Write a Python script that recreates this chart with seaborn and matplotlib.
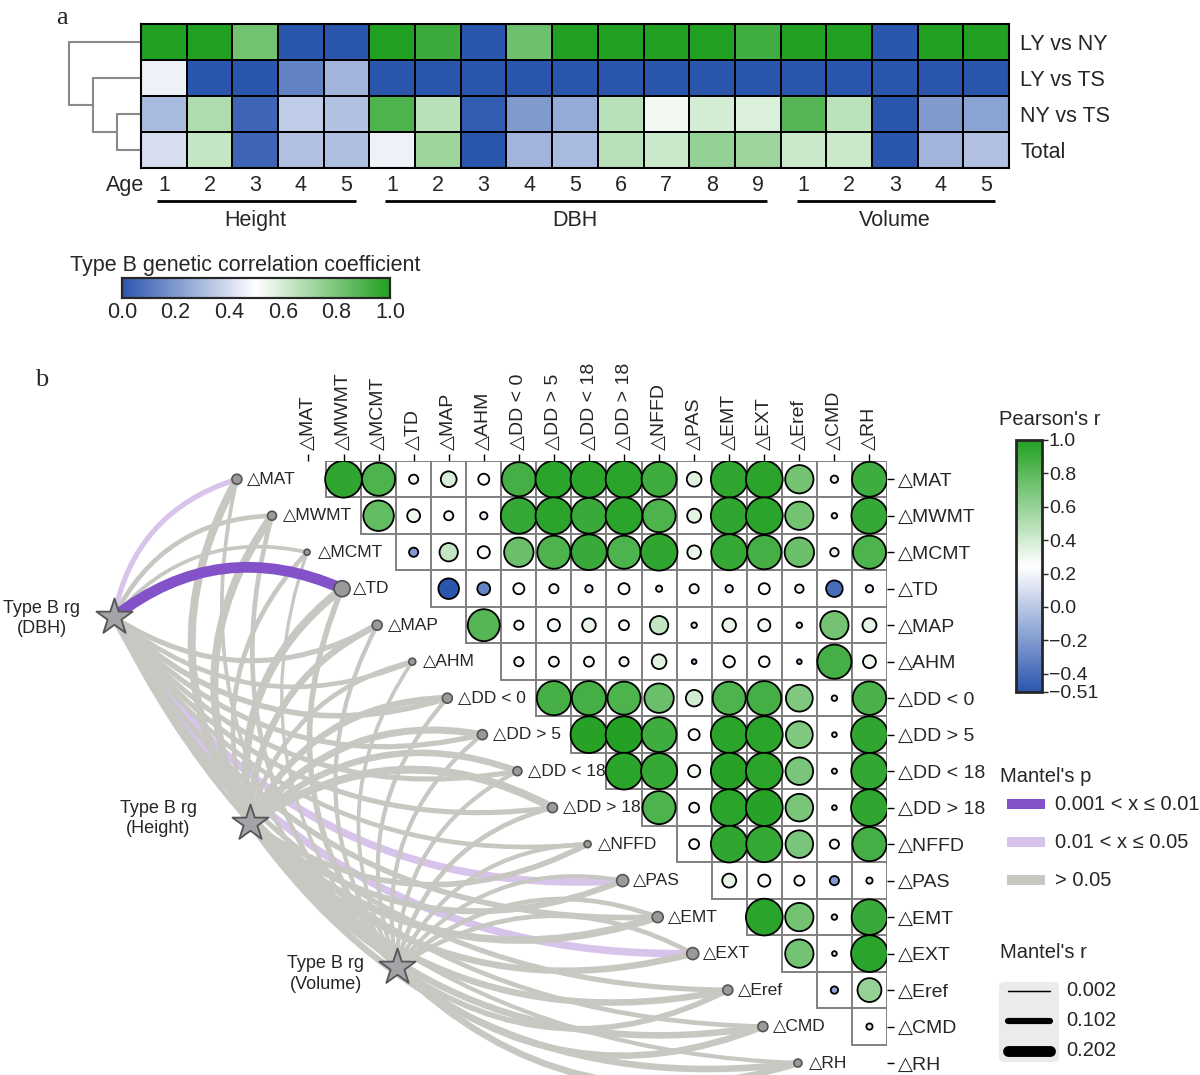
import numpy as np
import pandas as pd
import matplotlib
matplotlib.use("Agg")
import matplotlib.pyplot as plt
import seaborn as sns
from matplotlib.colors import LinearSegmentedColormap, Normalize
from matplotlib.path import Path
from matplotlib.patches import PathPatch, Rectangle, FancyBboxPatch
from matplotlib.cm import ScalarMappable

sns.set_style("white")
plt.rcParams["font.family"] = ["Liberation Sans", "DejaVu Sans"]

# ------------------------------------------------------------------ data (a)
contrasts = ["LY vs NY", "LY vs TS", "NY vs TS", "Total"]
traits = ["Height"] * 5 + ["DBH"] * 9 + ["Volume"] * 5
ages = [1, 2, 3, 4, 5, 1, 2, 3, 4, 5, 6, 7, 8, 9, 1, 2, 3, 4, 5]
rg_ly_ny = [1.00, 1.00, 0.82, 0.00, 0.00, 1.00, 0.94, 0.00, 0.83, 1.00, 1.00, 1.00, 1.00, 0.93, 1.00, 1.00, 0.00, 1.00, 1.00]
rg_ly_ts = [0.46, 0.00, 0.00, 0.13, 0.28, 0.00, 0.00, 0.00, 0.00, 0.00, 0.00, 0.00, 0.00, 0.00, 0.00, 0.00, 0.00, 0.00, 0.00]
rg_ny_ts = [0.30, 0.68, 0.05, 0.35, 0.32, 0.90, 0.66, 0.02, 0.20, 0.25, 0.66, 0.53, 0.60, 0.58, 0.88, 0.65, 0.00, 0.20, 0.23]
rg_total = [0.40, 0.63, 0.05, 0.32, 0.31, 0.46, 0.72, 0.00, 0.28, 0.30, 0.66, 0.62, 0.74, 0.72, 0.62, 0.62, 0.00, 0.28, 0.32]
# dendrogram of the contrasts (scipy-style linkage: left, right, height)
dendro_linkage = [(2, 3, 0.3), (1, 4, 0.6), (0, 5, 0.9)]
cbar_a_ticks = [0.0, 0.2, 0.4, 0.6, 0.8, 1.0]

# ------------------------------------------------------------------ data (b)
env_vars = ["MAT", "MWMT", "MCMT", "TD", "MAP", "AHM", "DD < 0", "DD > 5", "DD < 18",
            "DD > 18", "NFFD", "PAS", "EMT", "EXT", "Eref", "CMD", "RH"]
r_MAT = [0.95, 0.85, 0.20, 0.38, 0.25, 0.88, 0.97, 0.96, 0.97, 0.90, 0.35, 0.95, 0.96, 0.72, 0.15, 0.90]
r_MWMT = [0.78, 0.30, 0.20, 0.15, 0.93, 0.96, 0.92, 0.97, 0.85, 0.33, 0.95, 0.97, 0.72, 0.10, 0.93]
r_MCMT = [-0.20, 0.45, 0.28, 0.75, 0.85, 0.92, 0.85, 0.95, 0.32, 0.93, 0.88, 0.75, 0.18, 0.85]
r_TD = [-0.51, -0.30, 0.25, 0.20, 0.15, 0.25, 0.12, 0.20, 0.15, 0.25, 0.18, -0.40, 0.15]
r_MAP = [0.82, 0.20, 0.28, 0.32, 0.22, 0.45, 0.10, 0.32, 0.28, 0.10, 0.72, 0.33]
r_AHM = [0.20, 0.22, 0.22, 0.20, 0.35, -0.08, 0.26, 0.24, -0.08, 0.88, 0.30]
r_DDlt0 = [0.88, 0.88, 0.85, 0.75, 0.40, 0.85, 0.88, 0.68, 0.10, 0.86]
r_DDgt5 = [0.98, 0.99, 0.90, 0.25, 0.97, 0.97, 0.68, 0.08, 0.95]
r_DDlt18 = [0.97, 0.93, 0.28, 0.98, 0.96, 0.70, 0.09, 0.94]
r_DDgt18 = [0.85, 0.22, 0.97, 0.98, 0.70, 0.08, 0.95]
r_NFFD = [0.22, 0.95, 0.93, 0.70, 0.20, 0.88]
r_PAS = [0.33, 0.28, 0.22, -0.20, 0.12]
r_EMT = [0.97, 0.72, 0.10, 0.92]
r_EXT = [0.72, 0.08, 0.97]
r_Eref = [-0.15, 0.60]
r_CMD = [0.12]
pearson_rows = [r_MAT, r_MWMT, r_MCMT, r_TD, r_MAP, r_AHM, r_DDlt0, r_DDgt5, r_DDlt18,
                r_DDgt18, r_NFFD, r_PAS, r_EMT, r_EXT, r_Eref, r_CMD]
pearson_ticks = [1.0, 0.8, 0.6, 0.4, 0.2, 0.0, -0.2, -0.4, -0.51]

traits_b = ["DBH", "Height", "Volume"]
mantel_r_DBH = [0.08, 0.07, 0.05, 0.20, 0.08, 0.07, 0.09, 0.08, 0.08, 0.08, 0.07, 0.13, 0.09, 0.13, 0.08, 0.07, 0.06]
mantel_r_Height = [0.14, 0.14, 0.07, 0.14, 0.11, 0.07, 0.11, 0.12, 0.11, 0.14, 0.09, 0.10, 0.13, 0.11, 0.11, 0.11, 0.11]
mantel_r_Volume = [0.05, 0.07, 0.04, 0.09, 0.06, 0.05, 0.06, 0.06, 0.06, 0.07, 0.06, 0.06, 0.07, 0.07, 0.09, 0.11, 0.11]
mantel_p_DBH = ["mid", "ns", "ns", "low", "ns", "ns", "ns", "ns", "ns", "ns", "ns", "mid", "ns", "mid", "ns", "ns", "ns"]
mantel_p_Height = ["ns"] * 17
mantel_p_Volume = ["ns"] * 17
p_classes = ["low", "mid", "ns"]
p_labels = ["0.001 < x \u2264 0.01", "0.01 < x \u2264 0.05", "> 0.05"]
r_legend_values = [0.002, 0.102, 0.202]
node_diam = [10, 9, 6, 16, 10, 7, 10, 10, 9, 10, 7, 12, 11, 12, 10, 10, 8]

# ------------------------------------------------------------------ styles
W, H = 1200, 1075
fig = plt.figure(figsize=(12, 10.75), dpi=100)
fig.patch.set_facecolor("white")
PX = 100 / 72.0  # pixels per point


def px_axes(x0, y0, x1, y1):
    return fig.add_axes([x0 / W, 1 - y1 / H, (x1 - x0) / W, (y1 - y0) / H])


BLUE, GREEN = "#2b56ae", "#22a022"
cmap_a = LinearSegmentedColormap.from_list("bg", [(0, BLUE), (0.5, "#ffffff"), (1, GREEN)])
cmap_b = LinearSegmentedColormap.from_list("bg2", [BLUE, "#ffffff", GREEN])
norm_b = Normalize(-0.51, 1.0)
p_colors = {"low": "#8352c8", "mid": "#d8c3ea", "ns": "#c8c8c3"}
p_z = {"mid": 1, "ns": 2, "low": 3}

# ================================================================== panel a
ax_a = px_axes(141, 24, 1009, 168)
cax_a = px_axes(122, 278, 390, 298)
df_a = pd.DataFrame([rg_ly_ny, rg_ly_ts, rg_ny_ts, rg_total], index=contrasts)
sns.heatmap(df_a, ax=ax_a, cmap=cmap_a, vmin=0, vmax=1, linewidths=1.3, linecolor="black",
            xticklabels=[str(a) for a in ages], yticklabels=contrasts,
            cbar_ax=cax_a, cbar_kws=dict(orientation="horizontal", ticks=cbar_a_ticks))
for s in ax_a.spines.values():
    s.set_visible(True)
    s.set_linewidth(1.5)
    s.set_color("black")
ax_a.yaxis.tick_right()
ax_a.tick_params(axis="y", length=0, pad=8, labelsize=15.5, labelrotation=0)
ax_a.tick_params(axis="x", length=0, pad=5, labelsize=15.5, labelrotation=0)
ax_a.set_xlabel("")
ax_a.set_ylabel("")
ax_a.text(0.08, 4.5, "Age", ha="right", va="center", fontsize=15.5, clip_on=False)

# group underlines
start = 0
for k in range(1, len(traits) + 1):
    if k == len(traits) or traits[k] != traits[start]:
        ax_a.plot([start + 0.35, k - 0.3], [4.92, 4.92], color="black", lw=2, clip_on=False,
                  solid_capstyle="butt")
        ax_a.text((start + k) / 2, 5.47, traits[start], ha="center", va="center", fontsize=15.5)
        start = k

# dendrogram
dscale = 1.75
node_pos = {i: (0.0, i + 0.5) for i in range(len(contrasts))}
nid = len(contrasts)
for left, right, h in dendro_linkage:
    xh = -h * dscale
    for c in (left, right):
        cx, cy = node_pos[c]
        ax_a.plot([cx, xh], [cy, cy], color="#8a8a8a", lw=1.5, clip_on=False)
    y1, y2 = node_pos[left][1], node_pos[right][1]
    ax_a.plot([xh, xh], [y1, y2], color="#8a8a8a", lw=1.5, clip_on=False)
    node_pos[nid] = (xh, (y1 + y2) / 2)
    nid += 1

cax_a.tick_params(axis="x", labelsize=15.5, length=4, direction="in", color="#666666", pad=3)
cax_a.set_xticklabels([f"{t:.1f}" for t in cbar_a_ticks])
for s in cax_a.spines.values():
    s.set_visible(True)
    s.set_linewidth(1.5)
fig.text(70 / W, 1 - 265 / H, "Type B genetic correlation coefficient", fontsize=15.5,
         ha="left", va="center")

fig.text(62 / W, 1 - 18 / H, "a", family=["Liberation Serif", "DejaVu Serif"], fontsize=19,
         ha="center", va="center")
fig.text(42 / W, 1 - 380 / H, "b", family=["Liberation Serif", "DejaVu Serif"], fontsize=19,
         ha="center", va="center")

# ================================================================== panel b
axb = px_axes(63, 461, 887, 1074)
axb.set_xlim(-7, 16.5)
axb.set_ylim(16.3, -0.5)
axb.patch.set_alpha(0)
for s in axb.spines.values():
    s.set_visible(False)

rows = []
for i, vals in enumerate(pearson_rows):
    for k, v in enumerate(vals):
        rows.append(dict(row=i, col=i + 1 + k, r=v, circ=(abs(v) + 0.05) ** 2))
df_b = pd.DataFrame(rows)

for _, rr in df_b.iterrows():
    axb.add_patch(Rectangle((rr.col - 0.5, rr.row - 0.5), 1, 1, facecolor="white",
                            edgecolor="#808080", lw=1.4, zorder=3))
sns.scatterplot(data=df_b, x="col", y="row", hue="r", palette=cmap_b, hue_norm=norm_b,
                size="circ", sizes=(0, 700), size_norm=(0, 1.0), edgecolor="black",
                linewidth=1.3, legend=False, ax=axb, zorder=5)
axb.set_xlabel("")
axb.set_ylabel("")

labels_b = ["\u25b3" + v for v in env_vars]
axb.xaxis.tick_top()
axb.set_xticks(range(len(env_vars)))
axb.set_xticklabels(labels_b, rotation=90, fontsize=14)
axb.yaxis.tick_right()
axb.set_yticks(range(len(env_vars)))
axb.set_yticklabels(labels_b, fontsize=14)
axb.tick_params(axis="both", length=5, width=1, color="black", pad=3)
axb.set_xlim(-7, 16.5)
axb.set_ylim(16.3, -0.5)

# link network
SX, SY = 35.06, 36.49
star_pos = {"DBH": (-5.55, 3.78), "Height": (-1.67, 9.42), "Volume": (2.52, 13.37)}
star_label_pos = {"DBH": (-7.6, 3.82), "Height": (-4.29, 9.30), "Volume": (0.50, 13.56)}
node_xy = [(i - 2.04, i) for i in range(len(env_vars))]
mantel_r = {"DBH": mantel_r_DBH, "Height": mantel_r_Height, "Volume": mantel_r_Volume}
mantel_p = {"DBH": mantel_p_DBH, "Height": mantel_p_Height, "Volume": mantel_p_Volume}


def width_pt(r):
    return (1.4 + 47 * r) / PX


def curve(p0, p1, k=0.3):
    X0, Y0 = p0[0] * SX, -p0[1] * SY
    X1, Y1 = p1[0] * SX, -p1[1] * SY
    dx, dy = X1 - X0, Y1 - Y0
    L = np.hypot(dx, dy)
    nx, ny = -dy / L, dx / L
    sgn = 1 if Y1 > Y0 else -1
    cx = (X0 + X1) / 2 + sgn * k * L * nx
    cy = (Y0 + Y1) / 2 + sgn * k * L * ny
    verts = [(X0 / SX, -Y0 / SY), (cx / SX, -cy / SY), (X1 / SX, -Y1 / SY)]
    return Path(verts, [Path.MOVETO, Path.CURVE3, Path.CURVE3])


for t in traits_b:
    for j in range(len(env_vars)):
        cls = mantel_p[t][j]
        axb.add_patch(PathPatch(curve(star_pos[t], node_xy[j]), facecolor="none",
                                edgecolor=p_colors[cls], lw=width_pt(mantel_r[t][j]),
                                capstyle="butt", zorder=p_z[cls], clip_on=False))

axb.scatter([p[0] for p in node_xy], [p[1] for p in node_xy],
            s=[(d / PX) ** 2 for d in node_diam], color="#9a9a9a", edgecolor="#555555",
            linewidth=1.2, zorder=6, clip_on=False)
for j, (x, y) in enumerate(node_xy):
    axb.text(x + 0.3, y, labels_b[j], ha="left", va="center", fontsize=12.5, zorder=7)

for t in traits_b:
    axb.scatter([star_pos[t][0]], [star_pos[t][1]], marker="*", s=750, color="#a4a4a8",
                edgecolor="#555555", linewidth=1.3, zorder=8, clip_on=False)
    lx, ly = star_label_pos[t]
    axb.text(lx, ly, f"Type B rg\n({t})", ha="center", va="center", fontsize=13,
             linespacing=1.25, clip_on=False, zorder=8)

# Pearson colourbar
cax_b = px_axes(1016, 440, 1042, 692)
cb = fig.colorbar(ScalarMappable(norm=norm_b, cmap=cmap_b), cax=cax_b, ticks=pearson_ticks)
cb.outline.set_linewidth(2)
cb.ax.tick_params(labelsize=14, length=4, width=1, pad=1)
cb.ax.set_yticklabels([f"{t:.1f}".replace("-", "\u2212") if t != -0.51 else "\u22120.51"
                       for t in pearson_ticks])
fig.text(999 / W, 1 - 420 / H, "Pearson's r", fontsize=14.5, ha="left", va="center")

# Mantel legends
axl = px_axes(990, 760, 1200, 1075)
axl.set_xlim(990, 1200)
axl.set_ylim(1075, 760)
axl.axis("off")
axl.text(1000, 777, "Mantel's p", fontsize=14.5, ha="left", va="center")
for k, (cls, lab) in enumerate(zip(p_classes, p_labels)):
    y = 804 + k * 38
    axl.add_patch(Rectangle((1007, y - 5), 38, 10, facecolor=p_colors[cls], edgecolor="none"))
    axl.text(1055, y, lab, fontsize=14.5, ha="left", va="center")
axl.text(1000, 953, "Mantel's r", fontsize=14.5, ha="left", va="center")
axl.add_patch(FancyBboxPatch((999, 982), 60, 80, boxstyle="round,pad=0,rounding_size=5",
                             facecolor="#ebebeb", edgecolor="none"))
for k, rv in enumerate(r_legend_values):
    y = 991 + k * 30
    axl.plot([1008, 1050], [y, y], color="black", lw=width_pt(rv), solid_capstyle="round")
    axl.text(1066, y, f"{rv:.3f}", fontsize=14.5, ha="left", va="center")

fig.savefig("out.png", dpi=100, facecolor="white")
